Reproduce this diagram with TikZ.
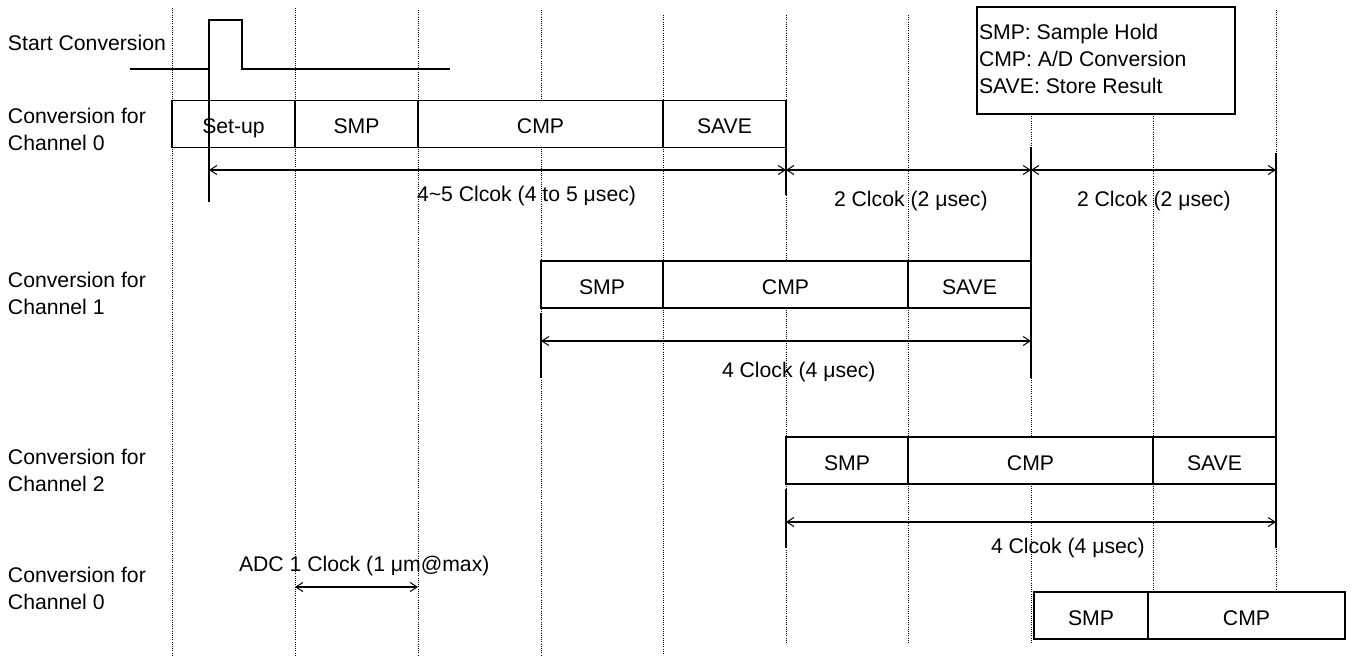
\documentclass[tikz,border=0pt]{standalone}
\usepackage{fontspec}
\setmainfont{Liberation Sans}
\usetikzlibrary{arrows.meta}
\newcommand{\twolines}[2]{\begin{tabular}[t]{@{}l@{}}#1\\#2\end{tabular}}
\newcommand{\threelines}[3]{\begin{tabular}[t]{@{}l@{}}#1\\#2\\#3\end{tabular}}
\begin{document}
\begin{tikzpicture}[x=1pt,y=-1pt,
  every node/.style={font=\fontsize{21.2}{27}\selectfont, inner sep=0pt, outer sep=0pt},
  gridline/.style={line width=1pt, dash pattern=on 1pt off 1.2pt},
  cell/.style={draw, fill=white, line width=1.4pt, minimum height=47pt, text height=19pt, text depth=0pt, anchor=west},
  signal/.style={line width=1.4pt},
  marker/.style={line width=1.7pt},
  dimarrow/.style={line width=1.8pt, arrows={Straight Barb[length=7pt,width=9pt,line width=1pt]-Straight Barb[length=7pt,width=9pt,line width=1pt]}},
  lbl/.style={anchor=base west}
]
\useasboundingbox (0,0) rectangle (1355,657);

% dotted clock grid
\foreach \x/\a/\b in {172/8/655, 295/8/655, 418/10/655, 541/10/655, 663/15/655,
                      786/15/643, 908/15/643, 1031/114/643, 1153/114/592, 1276/10/592}
  \draw[gridline] (\x,\a) -- (\x,\b);

% legend
\node[draw, line width=1.4pt, anchor=north west, minimum width=258pt, minimum height=107pt] (legend) at (977,7) {};
\node[lbl] (legendtext) at (979,39.3) {\threelines{SMP: Sample Hold}{CMP: A/D Conversion}{SAVE: Store Result}};

% row labels
\node[lbl] (lstart) at (8,50) {Start Conversion};
\node[lbl] (lch0) at (8,123) {\twolines{Conversion for}{Channel 0}};
\node[lbl] (lch1) at (8,287) {\twolines{Conversion for}{Channel 1}};
\node[lbl] (lch2) at (8,464) {\twolines{Conversion for}{Channel 2}};
\node[lbl] (lch0b) at (8,582) {\twolines{Conversion for}{Channel 0}};

% start conversion pulse
\coordinate (p0) at (130,69);
\coordinate (p1) at (209,69);
\coordinate (p2) at (209,20);
\coordinate (p3) at (242,20);
\coordinate (p4) at (242,69);
\coordinate (p5) at (450,69);
\draw[signal] (p0) -- (p1) -- (p2) -- (p3) -- (p4) -- (p5);

% channel 0
\node[cell, minimum width=123pt] (a1) at (172,124) {Set-up};
\node[cell, minimum width=123pt] (a2) at (295,124) {SMP};
\node[cell, minimum width=245pt] (a3) at (418,124) {CMP};
\node[cell, minimum width=123pt] (a4) at (663,124) {SAVE};

% channel 1
\node[cell, minimum width=122pt] (b1) at (541,284.5) {SMP};
\node[cell, minimum width=245pt] (b2) at (663,284.5) {CMP};
\node[cell, minimum width=123pt] (b3) at (908,284.5) {SAVE};

% channel 2
\node[cell, minimum width=122pt] (c1) at (786,460.5) {SMP};
\node[cell, minimum width=245pt] (c2) at (908,460.5) {CMP};
\node[cell, minimum width=123pt] (c3) at (1153,460.5) {SAVE};

% channel 0 again
\node[cell, minimum width=114pt] (d1) at (1034,615.5) {SMP};
\node[cell, minimum width=197pt] (d2) at (1148,615.5) {CMP};

% extension (marker) lines
\coordinate (m0t) at (209,20);   \coordinate (m0b) at (209,202);
\coordinate (m1t) at (786,100);  \coordinate (m1b) at (786,195);
\coordinate (m2t) at (1031,147); \coordinate (m2b) at (1031,378);
\coordinate (m3t) at (1276,153); \coordinate (m3b) at (1276,548);
\coordinate (m4t) at (541,313);  \coordinate (m4b) at (541,378);
\coordinate (m5t) at (786,489);  \coordinate (m5b) at (786,548);
\foreach \i in {0,...,5} \draw[marker] (m\i t) -- (m\i b);

% dimension arrows
\coordinate (r0a) at (209,170);  \coordinate (r0b) at (786,170);
\coordinate (r1a) at (786,170);  \coordinate (r1b) at (1031,170);
\coordinate (r2a) at (1031,170); \coordinate (r2b) at (1276,170);
\coordinate (r3a) at (541,341);  \coordinate (r3b) at (1031,341);
\coordinate (r4a) at (786,522);  \coordinate (r4b) at (1276,522);
\coordinate (r5a) at (295,587);  \coordinate (r5b) at (418,587);
\foreach \i in {0,...,5} \draw[dimarrow] (r\i a) -- (r\i b);

% dimension labels
\node[lbl] (t0) at (417,201.5) {4\textasciitilde5 Clcok (4 to 5 μsec)};
\node[lbl] (t1) at (834,206.5) {2 Clcok (2 μsec)};
\node[lbl] (t2) at (1077,206.5) {2 Clcok (2 μsec)};
\node[lbl] (t3) at (722,377) {4 Clock (4 μsec)};
\node[lbl] (t4) at (991,553) {4 Clcok (4 μsec)};
\node[lbl] (t5) at (239,571.5) {ADC 1 Clock (1 μm@max)};
\end{tikzpicture}
\end{document}
